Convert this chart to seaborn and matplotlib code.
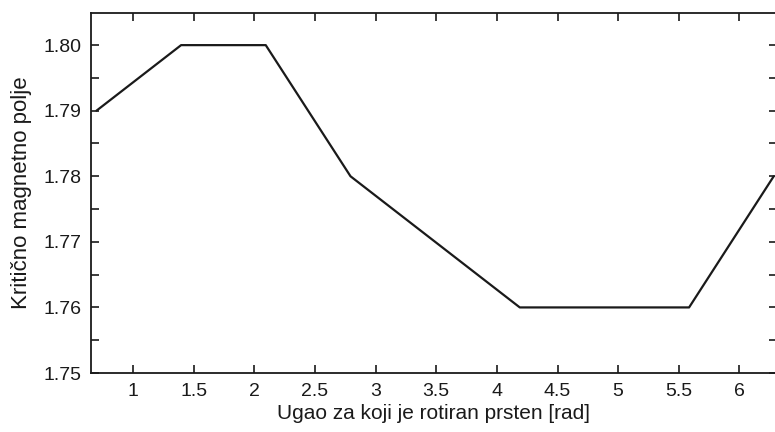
import numpy as np
import pandas as pd
import matplotlib
matplotlib.use("Agg")
import matplotlib.pyplot as plt
import seaborn as sns
from matplotlib.ticker import MultipleLocator

angle = [0.698, 1.396, 2.094, 2.793, 3.491, 4.189, 4.887, 5.585, 6.283]
field = [1.79, 1.80, 1.80, 1.78, 1.77, 1.76, 1.76, 1.76, 1.78]
xticks = [1, 1.5, 2, 2.5, 3, 3.5, 4, 4.5, 5, 5.5, 6]
xticklabels = ["1", "1.5", "2", "2.5", "3", "3.5", "4", "4.5", "5", "5.5", "6"]
yticks = [1.75, 1.76, 1.77, 1.78, 1.79, 1.80]
yticklabels = ["1.75", "1.76", "1.77", "1.78", "1.79", "1.80"]

sns.set_theme(style="ticks")
plt.rcParams['font.family'] = ['Liberation Sans', 'DejaVu Sans']

df = pd.DataFrame({"angle": angle, "field": field})

fig = plt.figure(figsize=(7.75, 4.32), dpi=100)
ax = fig.add_axes([91/775, 59/432, 686/775, 360/432])
sns.lineplot(data=df, x="angle", y="field", ax=ax, color="#1a1a1a", linewidth=1.6)

ax.set_xlim(0.653, 6.31)
ax.set_ylim(1.75, 1.8049)
ax.set_xticks(xticks)
ax.set_xticklabels(xticklabels)
ax.set_yticks(yticks)
ax.set_yticklabels(yticklabels)
ax.yaxis.set_minor_locator(MultipleLocator(0.005))

ax.tick_params(axis="both", which="both", direction="in", top=True, right=True,
               labelsize=14, color="#1a1a1a", labelcolor="#1a1a1a", width=1.2)
ax.tick_params(axis="both", which="major", length=6, pad=7)
ax.tick_params(axis="y", which="minor", length=6)
ax.tick_params(axis="x", which="minor", bottom=False, top=False)

for s in ax.spines.values():
    s.set_linewidth(1.3)
    s.set_color("#1a1a1a")

ax.set_xlabel("Ugao za koji je rotiran prsten [rad]", fontsize=15, color="#1a1a1a", labelpad=3)
ax.set_ylabel("Kritično magnetno polje", fontsize=16, color="#1a1a1a", labelpad=8)

fig.savefig("out.png", dpi=100)
